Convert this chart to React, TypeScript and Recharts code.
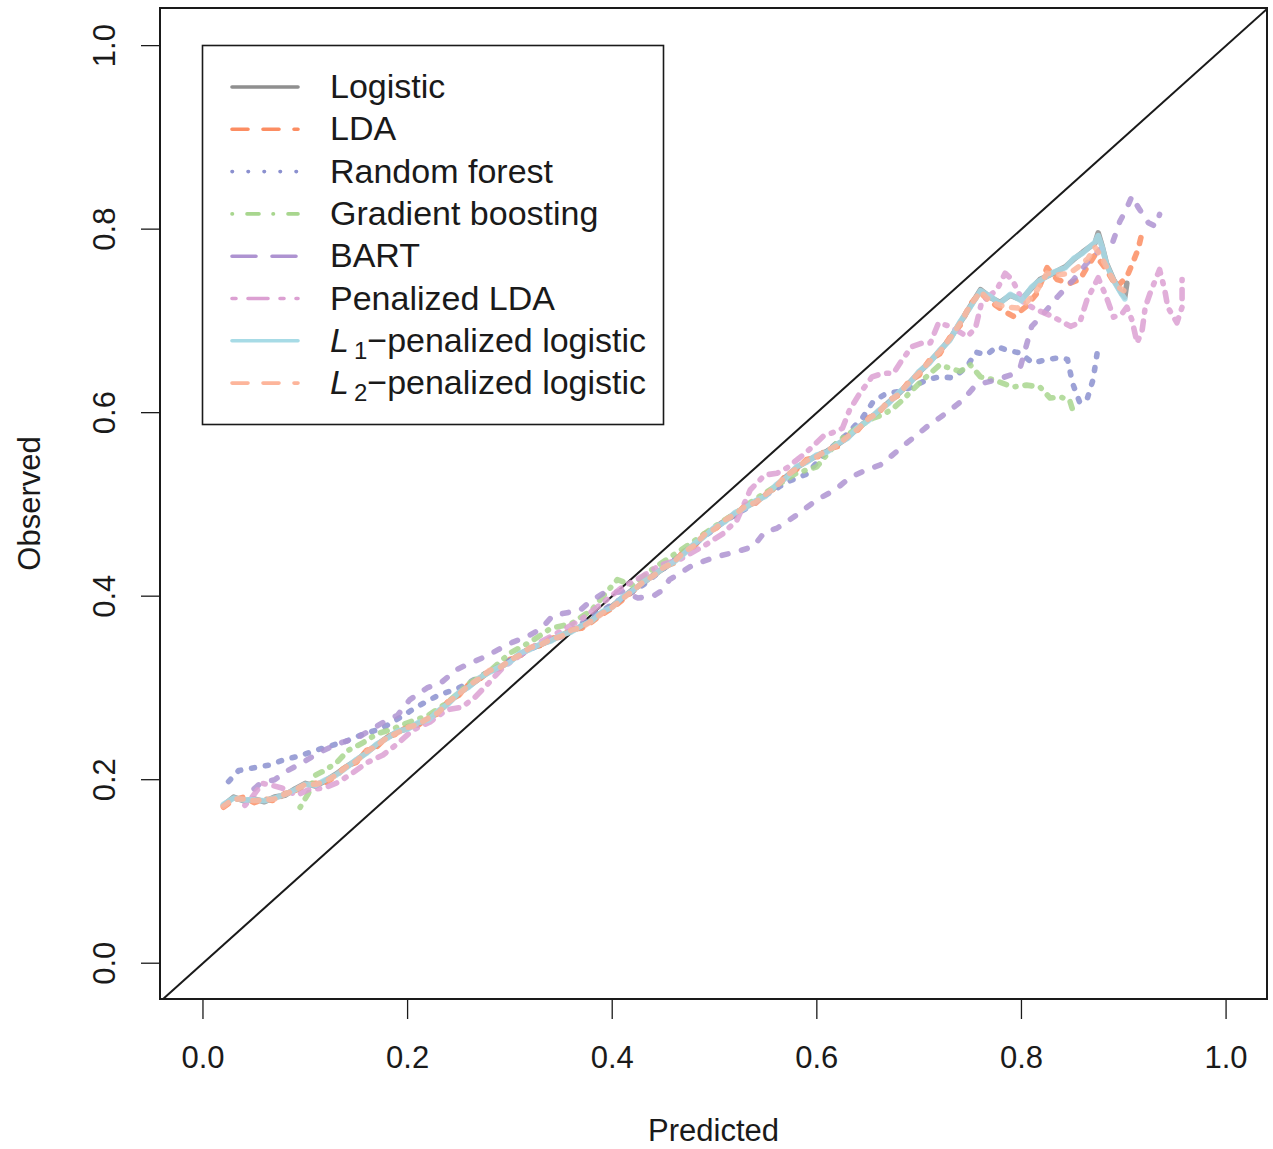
import { LineChart, Line, XAxis, YAxis, ReferenceArea } from 'recharts';

// calibration curves, [predicted, observed]
const logistic = [
    [0.02, 0.172], [0.03, 0.181], [0.04, 0.177], [0.05, 0.179], [0.06, 0.176], [0.07, 0.181], [0.08, 0.183],
    [0.09, 0.19], [0.1, 0.196], [0.11, 0.193], [0.12, 0.199], [0.13, 0.206], [0.14, 0.214], [0.15, 0.221],
    [0.16, 0.23], [0.17, 0.238], [0.18, 0.246], [0.19, 0.252], [0.2, 0.256], [0.21, 0.261], [0.22, 0.266],
    [0.23, 0.274], [0.24, 0.284], [0.25, 0.294], [0.26, 0.302], [0.27, 0.31], [0.28, 0.318], [0.29, 0.322],
    [0.3, 0.329], [0.31, 0.337], [0.32, 0.343], [0.33, 0.347], [0.34, 0.352], [0.35, 0.357], [0.36, 0.362],
    [0.37, 0.367], [0.38, 0.374], [0.39, 0.382], [0.4, 0.389], [0.41, 0.398], [0.42, 0.407], [0.43, 0.414],
    [0.44, 0.423], [0.45, 0.43], [0.46, 0.438], [0.47, 0.447], [0.48, 0.456], [0.49, 0.466], [0.5, 0.474],
    [0.51, 0.482], [0.52, 0.49], [0.53, 0.497], [0.54, 0.503], [0.55, 0.51], [0.56, 0.52], [0.57, 0.53],
    [0.58, 0.54], [0.59, 0.547], [0.6, 0.553], [0.61, 0.558], [0.62, 0.565], [0.63, 0.573], [0.64, 0.583],
    [0.65, 0.592], [0.66, 0.601], [0.67, 0.611], [0.68, 0.621], [0.69, 0.632], [0.7, 0.644], [0.71, 0.655],
    [0.72, 0.667], [0.73, 0.68], [0.74, 0.698], [0.75, 0.716], [0.76, 0.734], [0.769, 0.726], [0.779, 0.72],
    [0.789, 0.728], [0.8, 0.723], [0.81, 0.736], [0.818, 0.745], [0.831, 0.752], [0.843, 0.759], [0.851, 0.767],
    [0.86, 0.775], [0.872, 0.785], [0.875, 0.796], [0.879, 0.781], [0.883, 0.763], [0.89, 0.745], [0.898, 0.73],
    [0.901, 0.726], [0.903, 0.741],
];

const lda = [
    [0.02, 0.17], [0.03, 0.178], [0.04, 0.181], [0.05, 0.175], [0.06, 0.179], [0.07, 0.177], [0.08, 0.185],
    [0.09, 0.188], [0.1, 0.194], [0.11, 0.196], [0.12, 0.197], [0.13, 0.204], [0.14, 0.215], [0.15, 0.219],
    [0.16, 0.232], [0.17, 0.236], [0.18, 0.247], [0.19, 0.25], [0.2, 0.258], [0.21, 0.259], [0.22, 0.268],
    [0.23, 0.272], [0.24, 0.286], [0.25, 0.292], [0.26, 0.304], [0.27, 0.309], [0.28, 0.32], [0.29, 0.321],
    [0.3, 0.331], [0.31, 0.335], [0.32, 0.345], [0.33, 0.346], [0.34, 0.354], [0.35, 0.356], [0.36, 0.364],
    [0.37, 0.365], [0.38, 0.372], [0.39, 0.38], [0.4, 0.387], [0.41, 0.396], [0.42, 0.405], [0.43, 0.416],
    [0.44, 0.421], [0.45, 0.432], [0.46, 0.436], [0.47, 0.449], [0.48, 0.454], [0.49, 0.468], [0.5, 0.472],
    [0.51, 0.484], [0.52, 0.488], [0.53, 0.499], [0.54, 0.501], [0.55, 0.512], [0.56, 0.518], [0.57, 0.532],
    [0.58, 0.538], [0.59, 0.549], [0.6, 0.551], [0.61, 0.56], [0.62, 0.563], [0.63, 0.575], [0.64, 0.581],
    [0.65, 0.594], [0.66, 0.599], [0.67, 0.613], [0.68, 0.619], [0.69, 0.634], [0.7, 0.641], [0.71, 0.657],
    [0.72, 0.664], [0.73, 0.682], [0.74, 0.695], [0.75, 0.718], [0.76, 0.731], [0.766, 0.724], [0.776, 0.716],
    [0.784, 0.71], [0.792, 0.705], [0.805, 0.716], [0.815, 0.73], [0.825, 0.758], [0.835, 0.745], [0.847, 0.741],
    [0.857, 0.745], [0.865, 0.76], [0.872, 0.772], [0.883, 0.756], [0.893, 0.737], [0.903, 0.748], [0.909, 0.764],
    [0.914, 0.778], [0.917, 0.792],
];

const randomForest = [
    [0.025, 0.198], [0.035, 0.21], [0.05, 0.213], [0.065, 0.216], [0.08, 0.222], [0.095, 0.226], [0.11, 0.232],
    [0.125, 0.237], [0.14, 0.242], [0.155, 0.249], [0.175, 0.256], [0.19, 0.266], [0.21, 0.28], [0.23, 0.292],
    [0.25, 0.3], [0.27, 0.312], [0.29, 0.324], [0.31, 0.336], [0.33, 0.348], [0.35, 0.356], [0.37, 0.37],
    [0.39, 0.384], [0.41, 0.398], [0.43, 0.412], [0.45, 0.43], [0.47, 0.448], [0.49, 0.465], [0.51, 0.482],
    [0.53, 0.495], [0.55, 0.51], [0.57, 0.524], [0.59, 0.533], [0.61, 0.558], [0.63, 0.577], [0.645, 0.595],
    [0.655, 0.612], [0.668, 0.621], [0.68, 0.623], [0.693, 0.628], [0.708, 0.636], [0.72, 0.639], [0.733, 0.638],
    [0.747, 0.65], [0.755, 0.666], [0.766, 0.663], [0.776, 0.672], [0.786, 0.668], [0.799, 0.665], [0.811, 0.654],
    [0.825, 0.658], [0.838, 0.66], [0.845, 0.658], [0.85, 0.632], [0.857, 0.611], [0.864, 0.614], [0.87, 0.636],
    [0.874, 0.665],
];

const gradientBoosting = [
    [0.095, 0.17], [0.103, 0.185], [0.11, 0.205], [0.119, 0.21], [0.131, 0.219], [0.142, 0.232], [0.156, 0.24],
    [0.17, 0.25], [0.185, 0.255], [0.2, 0.262], [0.22, 0.27], [0.24, 0.285], [0.26, 0.305], [0.28, 0.318],
    [0.3, 0.338], [0.32, 0.35], [0.34, 0.365], [0.36, 0.37], [0.38, 0.385], [0.395, 0.405], [0.405, 0.418],
    [0.42, 0.412], [0.44, 0.43], [0.46, 0.445], [0.48, 0.46], [0.5, 0.476], [0.52, 0.49], [0.54, 0.506],
    [0.56, 0.52], [0.58, 0.534], [0.6, 0.541], [0.62, 0.568], [0.64, 0.584], [0.655, 0.594], [0.665, 0.598],
    [0.675, 0.605], [0.684, 0.614], [0.7, 0.632], [0.72, 0.652], [0.74, 0.645], [0.75, 0.652], [0.76, 0.639],
    [0.772, 0.636], [0.782, 0.632], [0.792, 0.628], [0.805, 0.63], [0.818, 0.628], [0.828, 0.616], [0.838, 0.617],
    [0.847, 0.614], [0.85, 0.603],
];

const bart = [
    [0.05, 0.19], [0.056, 0.196], [0.07, 0.2], [0.083, 0.21], [0.098, 0.219], [0.114, 0.23], [0.134, 0.24],
    [0.15, 0.245], [0.165, 0.255], [0.18, 0.265], [0.19, 0.27], [0.202, 0.287], [0.219, 0.3], [0.233, 0.306],
    [0.248, 0.32], [0.261, 0.327], [0.276, 0.334], [0.289, 0.342], [0.303, 0.35], [0.317, 0.356], [0.331, 0.365],
    [0.342, 0.379], [0.356, 0.382], [0.369, 0.385], [0.378, 0.394], [0.391, 0.403], [0.41, 0.405], [0.425, 0.398],
    [0.44, 0.4], [0.447, 0.405], [0.456, 0.418], [0.479, 0.434], [0.502, 0.443], [0.52, 0.448], [0.538, 0.454],
    [0.549, 0.47], [0.561, 0.474], [0.581, 0.489], [0.6, 0.505], [0.618, 0.516], [0.632, 0.529], [0.649, 0.538],
    [0.662, 0.543], [0.672, 0.552], [0.688, 0.567], [0.708, 0.585], [0.727, 0.6], [0.743, 0.614], [0.753, 0.627],
    [0.762, 0.632], [0.776, 0.636], [0.789, 0.641], [0.799, 0.65], [0.81, 0.694], [0.821, 0.707], [0.835, 0.726],
    [0.851, 0.745], [0.864, 0.763], [0.877, 0.778], [0.889, 0.785], [0.896, 0.808], [0.903, 0.823], [0.908, 0.836],
    [0.914, 0.824], [0.924, 0.807], [0.931, 0.803], [0.935, 0.816],
];

const penalizedLda = [
    [0.041, 0.172], [0.048, 0.181], [0.058, 0.196], [0.067, 0.194], [0.077, 0.191], [0.092, 0.183], [0.103, 0.189],
    [0.119, 0.191], [0.132, 0.197], [0.147, 0.208], [0.161, 0.219], [0.176, 0.227], [0.191, 0.24], [0.205, 0.254],
    [0.222, 0.263], [0.238, 0.276], [0.253, 0.279], [0.266, 0.29], [0.279, 0.305], [0.293, 0.322], [0.313, 0.338],
    [0.33, 0.35], [0.35, 0.362], [0.37, 0.375], [0.39, 0.392], [0.41, 0.41], [0.43, 0.422], [0.447, 0.434],
    [0.466, 0.44], [0.49, 0.455], [0.508, 0.468], [0.522, 0.483], [0.535, 0.516], [0.549, 0.532], [0.561, 0.534],
    [0.571, 0.54], [0.581, 0.549], [0.59, 0.557], [0.606, 0.574], [0.615, 0.578], [0.625, 0.583], [0.632, 0.603],
    [0.642, 0.621], [0.654, 0.639], [0.665, 0.643], [0.675, 0.643], [0.683, 0.657], [0.693, 0.672], [0.703, 0.676],
    [0.711, 0.676], [0.719, 0.698], [0.73, 0.694], [0.747, 0.683], [0.755, 0.692], [0.761, 0.72], [0.776, 0.734],
    [0.784, 0.752], [0.791, 0.745], [0.802, 0.72], [0.815, 0.712], [0.83, 0.705], [0.848, 0.694], [0.857, 0.698],
    [0.864, 0.723], [0.875, 0.747], [0.883, 0.726], [0.89, 0.704], [0.899, 0.709], [0.903, 0.715], [0.908, 0.701],
    [0.913, 0.676], [0.918, 0.69], [0.921, 0.715], [0.926, 0.731], [0.935, 0.756], [0.94, 0.734], [0.943, 0.715],
    [0.952, 0.698], [0.957, 0.715], [0.957, 0.745],
];

const l1Logistic = [
    [0.02, 0.173], [0.03, 0.18], [0.04, 0.178], [0.05, 0.178], [0.06, 0.177], [0.07, 0.18], [0.08, 0.184],
    [0.09, 0.189], [0.1, 0.195], [0.11, 0.194], [0.12, 0.2], [0.13, 0.205], [0.14, 0.213], [0.15, 0.222],
    [0.16, 0.229], [0.17, 0.239], [0.18, 0.245], [0.19, 0.253], [0.2, 0.255], [0.21, 0.262], [0.22, 0.265],
    [0.23, 0.275], [0.24, 0.283], [0.25, 0.295], [0.26, 0.301], [0.27, 0.311], [0.28, 0.317], [0.29, 0.323],
    [0.3, 0.328], [0.31, 0.338], [0.32, 0.342], [0.33, 0.348], [0.34, 0.351], [0.35, 0.358], [0.36, 0.361],
    [0.37, 0.368], [0.38, 0.373], [0.39, 0.383], [0.4, 0.388], [0.41, 0.399], [0.42, 0.406], [0.43, 0.415],
    [0.44, 0.422], [0.45, 0.431], [0.46, 0.437], [0.47, 0.446], [0.48, 0.457], [0.49, 0.465], [0.5, 0.475],
    [0.51, 0.481], [0.52, 0.491], [0.53, 0.496], [0.54, 0.504], [0.55, 0.509], [0.56, 0.521], [0.57, 0.529],
    [0.58, 0.541], [0.59, 0.546], [0.6, 0.554], [0.61, 0.557], [0.62, 0.566], [0.63, 0.572], [0.64, 0.584],
    [0.65, 0.591], [0.66, 0.602], [0.67, 0.61], [0.68, 0.622], [0.69, 0.631], [0.7, 0.645], [0.71, 0.654],
    [0.72, 0.668], [0.73, 0.679], [0.74, 0.699], [0.75, 0.715], [0.76, 0.733], [0.769, 0.727], [0.779, 0.719],
    [0.789, 0.729], [0.8, 0.722], [0.81, 0.737], [0.818, 0.744], [0.831, 0.753], [0.843, 0.758], [0.851, 0.768],
    [0.86, 0.774], [0.872, 0.786], [0.875, 0.793], [0.879, 0.78], [0.883, 0.762], [0.89, 0.744], [0.898, 0.729],
    [0.901, 0.724],
];

const l2Logistic = [
    [0.02, 0.171], [0.03, 0.179], [0.04, 0.179], [0.05, 0.177], [0.06, 0.178], [0.07, 0.179], [0.08, 0.184],
    [0.09, 0.189], [0.1, 0.195], [0.11, 0.195], [0.12, 0.198], [0.13, 0.205], [0.14, 0.214], [0.15, 0.22],
    [0.16, 0.231], [0.17, 0.237], [0.18, 0.246], [0.19, 0.251], [0.2, 0.257], [0.21, 0.26], [0.22, 0.267],
    [0.23, 0.273], [0.24, 0.285], [0.25, 0.293], [0.26, 0.303], [0.27, 0.31], [0.28, 0.319], [0.29, 0.322],
    [0.3, 0.33], [0.31, 0.336], [0.32, 0.344], [0.33, 0.347], [0.34, 0.353], [0.35, 0.356], [0.36, 0.363],
    [0.37, 0.366], [0.38, 0.373], [0.39, 0.381], [0.4, 0.388], [0.41, 0.397], [0.42, 0.406], [0.43, 0.415],
    [0.44, 0.422], [0.45, 0.431], [0.46, 0.437], [0.47, 0.448], [0.48, 0.455], [0.49, 0.467], [0.5, 0.473],
    [0.51, 0.483], [0.52, 0.489], [0.53, 0.498], [0.54, 0.502], [0.55, 0.511], [0.56, 0.519], [0.57, 0.531],
    [0.58, 0.539], [0.59, 0.548], [0.6, 0.552], [0.61, 0.559], [0.62, 0.564], [0.63, 0.574], [0.64, 0.582],
    [0.65, 0.593], [0.66, 0.6], [0.67, 0.612], [0.68, 0.62], [0.69, 0.633], [0.7, 0.643], [0.71, 0.656],
    [0.72, 0.666], [0.73, 0.681], [0.74, 0.697], [0.75, 0.717], [0.76, 0.732], [0.766, 0.725], [0.776, 0.718],
    [0.786, 0.715], [0.796, 0.714], [0.805, 0.72], [0.815, 0.733], [0.825, 0.752], [0.835, 0.75], [0.847, 0.752],
    [0.857, 0.76], [0.865, 0.768], [0.872, 0.78], [0.878, 0.77], [0.886, 0.752], [0.893, 0.738], [0.9, 0.733],
];

const diagonal = [[-0.039, -0.039], [1.04, 1.04]];

const xTicks = [0, 0.2, 0.4, 0.6, 0.8, 1.0];
const yTicks = [0, 0.2, 0.4, 0.6, 0.8, 1.0];

const toPts = (arr: number[][]) => arr.map(([x, y]) => ({ x, y }));

const FONT = '"Liberation Sans", Arial, Helvetica, sans-serif';
const INK = '#1a1a1a';

const SERIES = [
    { key: 'logistic', label: 'Logistic', data: logistic, color: '#8f8f8f', dash: undefined, legendDash: undefined },
    { key: 'lda', label: 'LDA', data: lda, color: '#fc8d62', dash: '6 10', legendDash: '16 15' },
    { key: 'rf', label: 'Random forest', data: randomForest, color: '#8b90cf', dash: '3 11', legendDash: '0.5 15.5' },
    { key: 'gb', label: 'Gradient boosting', data: gradientBoosting, color: '#a8d68e', dash: '1 9 7 9', legendDash: '0.5 14.5 12 14' },
    { key: 'bart', label: 'BART', data: bart, color: '#ae93d1', dash: '6 14', legendDash: '24 16' },
    { key: 'plda', label: 'Penalized LDA', data: penalizedLda, color: '#dca0d2', dash: '2 9 9 9', legendDash: '4 12 20 12' },
    { key: 'l1', label: 'L1', data: l1Logistic, color: '#a7dbe6', dash: undefined, legendDash: undefined },
    { key: 'l2', label: 'L2', data: l2Logistic, color: '#fdb59b', dash: '6 10', legendDash: '16 15' },
];

const XTick = ({ x, y, payload }: any) => (
    <text x={x} y={y + 47} textAnchor="middle" fontSize={31} fontFamily={FONT} fill={INK}>
        {payload.value.toFixed(1)}
    </text>
);

const YTick = ({ x, y, payload }: any) => (
    <text
        x={x - 24}
        y={y}
        transform={`rotate(-90 ${x - 24} ${y})`}
        textAnchor="middle"
        fontSize={31}
        fontFamily={FONT}
        fill={INK}
    >
        {payload.value.toFixed(1)}
    </text>
);

const XTitle = ({ viewBox }: any) => (
    <text x={viewBox.x + viewBox.width / 2} y={viewBox.y + 142} textAnchor="middle" fontSize={31} fontFamily={FONT} fill={INK}>
        Predicted
    </text>
);

const YTitle = ({ viewBox }: any) => {
    const cx = viewBox.x + 40;
    const cy = viewBox.y + viewBox.height / 2;
    return (
        <text x={cx} y={cy} transform={`rotate(-90 ${cx} ${cy})`} textAnchor="middle" fontSize={31} fontFamily={FONT} fill={INK}>
            Observed
        </text>
    );
};

function LegendBox() {
    const left = 202;
    const top = 45;
    const rowY = (i: number) => 87 + i * 42.3;
    return (
        <svg width={1273} height={1149} style={{ position: 'absolute', left: 0, top: 0, pointerEvents: 'none' }}>
            <rect x={left + 0.5} y={top + 0.5} width={461} height={379} fill="#fff" stroke={INK} strokeWidth={1.6} />
            {SERIES.map((s, i) => {
                const y = rowY(i);
                let label: any = s.label;
                if (s.key === 'l1' || s.key === 'l2') {
                    label = (
                        <>
                            <tspan fontStyle="italic">L</tspan>
                            <tspan dx={5} dy={7} fontSize={24}>{s.key === 'l1' ? '1' : '2'}</tspan>
                            <tspan dy={-7}>−penalized logistic</tspan>
                        </>
                    );
                }
                return (
                    <g key={s.key}>
                        <line
                            x1={232}
                            x2={298}
                            y1={y}
                            y2={y}
                            stroke={s.color}
                            strokeWidth={3.6}
                            strokeDasharray={s.legendDash}
                            strokeLinecap="round"
                        />
                        <text x={330} y={y + 11} fontSize={34} fontFamily={FONT} fill={INK}>
                            {label}
                        </text>
                    </g>
                );
            })}
        </svg>
    );
}

export default function App() {
    return (
        <div style={{ position: 'absolute', left: 0, top: 0, width: 1273, height: 1149, background: '#fff' }}>
            <LineChart width={1273} height={1149} margin={{ top: 8, right: 6, bottom: 0, left: 0 }}>
                <XAxis
                    type="number"
                    dataKey="x"
                    domain={[-0.042, 1.04]}
                    ticks={xTicks}
                    allowDataOverflow
                    height={150}
                    tickSize={20}
                    axisLine={false}
                    tickLine={{ stroke: INK, strokeWidth: 1.3 }}
                    tick={<XTick />}
                    label={XTitle}
                />
                <YAxis
                    type="number"
                    dataKey="y"
                    domain={[-0.039, 1.041]}
                    ticks={yTicks}
                    allowDataOverflow
                    width={160}
                    tickSize={19}
                    axisLine={false}
                    tickLine={{ stroke: INK, strokeWidth: 1.3 }}
                    tick={<YTick />}
                    label={YTitle}
                />
                <Line
                    data={toPts(diagonal)}
                    dataKey="y"
                    stroke={INK}
                    strokeWidth={2}
                    dot={false}
                    activeDot={false}
                    isAnimationActive={false}
                    legendType="none"
                />
                {SERIES.map((s) => (
                    <Line
                        key={s.key}
                        data={toPts(s.data)}
                        dataKey="y"
                        name={s.label}
                        type="linear"
                        stroke={s.color}
                        strokeWidth={5.6}
                        strokeOpacity={0.85}
                        strokeDasharray={s.dash}
                        strokeLinecap="round"
                        strokeLinejoin="round"
                        dot={false}
                        activeDot={false}
                        isAnimationActive={false}
                    />
                ))}
                <ReferenceArea x1={-0.042} x2={1.04} y1={-0.039} y2={1.041} fill="none" stroke={INK} strokeWidth={2} ifOverflow="visible" />
            </LineChart>
            <LegendBox />
        </div>
    );
}
